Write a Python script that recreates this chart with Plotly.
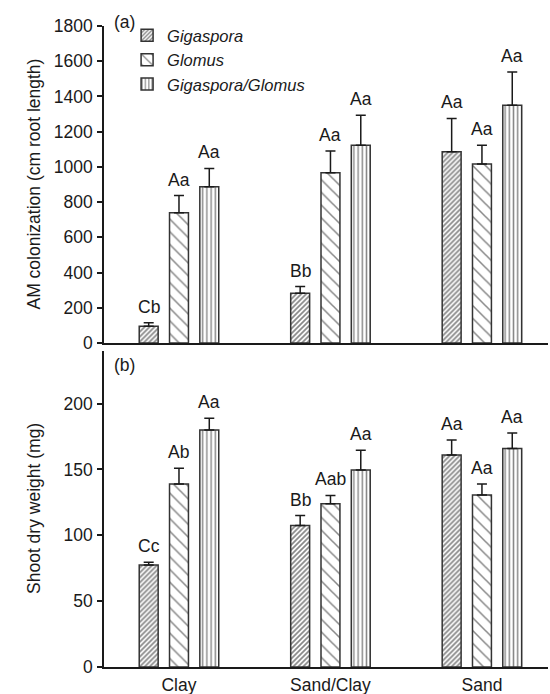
import plotly.graph_objects as go

soils = ["Clay", "Sand/Clay", "Sand"]
series = ["Gigaspora", "Glomus", "Gigaspora/Glomus"]

am_vals = {
    "Gigaspora": [95, 283, 1086],
    "Glomus": [740, 967, 1016],
    "Gigaspora/Glomus": [887, 1123, 1350],
}
am_err = {
    "Gigaspora": [20, 38, 189],
    "Glomus": [97, 124, 107],
    "Gigaspora/Glomus": [104, 170, 189],
}
am_lbl = {
    "Gigaspora": ["Cb", "Bb", "Aa"],
    "Glomus": ["Aa", "Aa", "Aa"],
    "Gigaspora/Glomus": ["Aa", "Aa", "Aa"],
}

sw_vals = {
    "Gigaspora": [77.5, 107.4, 161],
    "Glomus": [139, 124, 130.7],
    "Gigaspora/Glomus": [180, 149.6, 166],
}
sw_err = {
    "Gigaspora": [2, 7.6, 11.4],
    "Glomus": [12, 6.3, 8.3],
    "Gigaspora/Glomus": [9, 15, 11.8],
}
sw_lbl = {
    "Gigaspora": ["Cc", "Bb", "Aa"],
    "Glomus": ["Ab", "Aab", "Aa"],
    "Gigaspora/Glomus": ["Aa", "Aa", "Aa"],
}

am_ticks = [0, 200, 400, 600, 800, 1000, 1200, 1400, 1600, 1800]
sw_ticks = [0, 50, 100, 150, 200]

patterns = {
    "Gigaspora": dict(shape="/", size=3.5, solidity=0.5, fgcolor="#111", bgcolor="white"),
    "Glomus": dict(shape="\\", size=9, solidity=0.17, fgcolor="#111", bgcolor="white"),
    "Gigaspora/Glomus": dict(shape="|", size=4.2, solidity=0.35, fgcolor="#111", bgcolor="white"),
}

INK = "#1a1a1a"
FONT = "Liberation Sans, Arial, sans-serif"
FS = 17.5

fig = go.Figure()
offsets = {"Gigaspora": -0.2, "Glomus": 0.0, "Gigaspora/Glomus": 0.2}

for panel, (vals, errs, lbls, xa, ya) in enumerate([
    (am_vals, am_err, am_lbl, "x", "y"),
    (sw_vals, sw_err, sw_lbl, "x2", "y2"),
]):
    for s in series:
        fig.add_trace(go.Bar(
            x=soils, y=vals[s], name=s, xaxis=xa, yaxis=ya,
            showlegend=(panel == 0),
            marker=dict(color="white", pattern=patterns[s],
                        line=dict(color="#333", width=1.5)),
            error_y=dict(type="data", symmetric=False, array=errs[s],
                         arrayminus=[0] * len(soils), color=INK,
                         thickness=1.5, width=5),
        ))
        for i, soil in enumerate(soils):
            fig.add_annotation(
                x=i + offsets[s], y=vals[s][i] + errs[s][i], xref=xa, yref=ya,
                text=lbls[s][i], showarrow=False, yanchor="bottom", yshift=4,
                font=dict(family=FONT, size=FS, color=INK),
            )

axis_common = dict(showline=True, linecolor=INK, linewidth=1.5, showgrid=False,
                   zeroline=False, automargin=False,
                   tickfont=dict(family=FONT, size=FS, color=INK))

fig.update_layout(
    width=550, height=694,
    margin=dict(l=104, r=2, t=26, b=26.5, autoexpand=False),
    paper_bgcolor="white", plot_bgcolor="white",
    barmode="group", bargap=0.4, bargroupgap=0.375,
    font=dict(family=FONT, size=FS, color=INK),
    xaxis=dict(**axis_common, anchor="y", type="category", range=[-0.495, 2.436],
               showticklabels=False, ticks=""),
    xaxis2=dict(**axis_common, anchor="y2", type="category", range=[-0.495, 2.436],
                ticks="", ticklabelstandoff=1),
    yaxis=dict(**axis_common, domain=[0.5054, 1.0], range=[0, 1800], tickvals=am_ticks,
               ticks="outside", ticklen=5, tickcolor=INK, tickwidth=1.5, anchor="x",
               ticklabelstandoff=1),
    yaxis2=dict(**axis_common, domain=[0.0, 0.493], range=[0, 240], tickvals=sw_ticks,
                ticks="outside", ticklen=5, tickcolor=INK, tickwidth=1.5, anchor="x2",
                ticklabelstandoff=1),
    legend=dict(x=0.052, y=1.0125, xanchor="left", yanchor="top",
                font=dict(family=FONT, size=16.5, color=INK, style="italic"),
                bgcolor="rgba(0,0,0,0)", tracegroupgap=0),
)

fig.add_annotation(text="AM colonization (cm root length)", xref="paper", yref="y domain",
                   x=0, y=0.5, xshift=-82, textangle=-90, showarrow=False,
                   font=dict(family=FONT, size=FS, color=INK))
fig.add_annotation(text="Shoot dry weight (mg)", xref="paper", yref="y2 domain",
                   x=0, y=0.5, xshift=-82, textangle=-90, showarrow=False,
                   font=dict(family=FONT, size=FS, color=INK))
fig.add_annotation(text="(a)", xref="paper", yref="y domain", x=0, y=1.0,
                   xshift=8, xanchor="left", yanchor="middle", yshift=4, showarrow=False,
                   font=dict(family=FONT, size=FS, color=INK))
fig.add_annotation(text="(b)", xref="paper", yref="y2 domain", x=0, y=1.0,
                   xshift=8, xanchor="left", yanchor="middle", yshift=-14, showarrow=False,
                   font=dict(family=FONT, size=FS, color=INK))

fig.write_html("out.html")
